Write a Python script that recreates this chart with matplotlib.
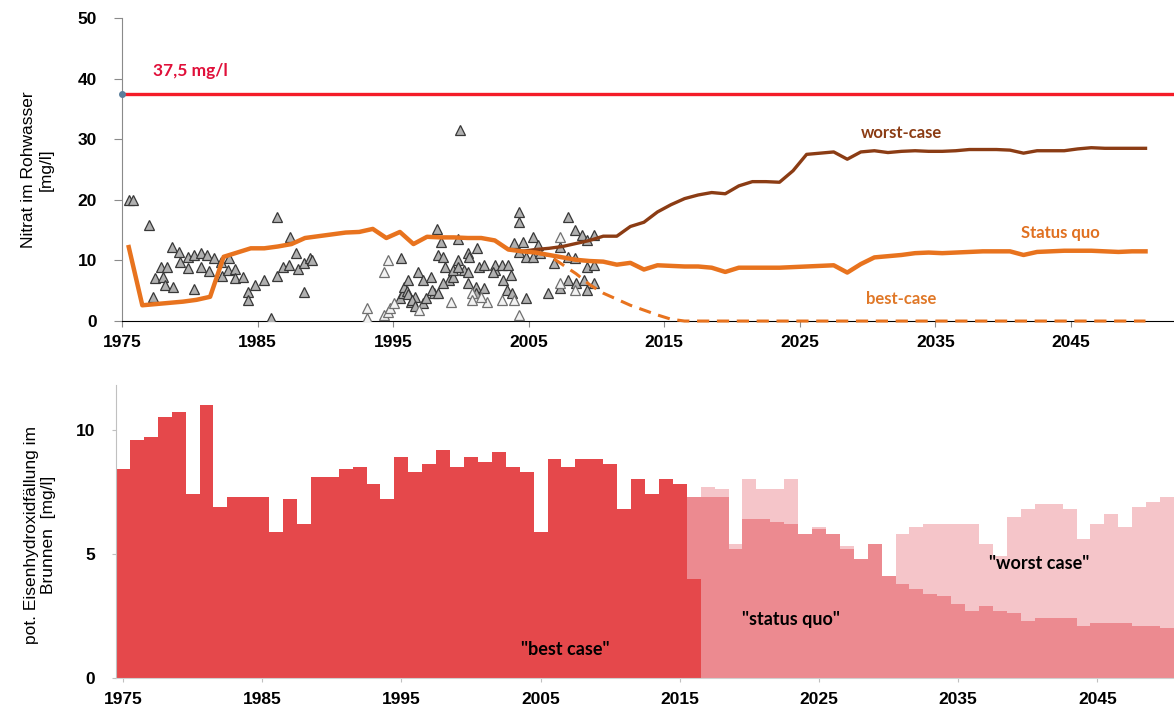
import numpy as np
import matplotlib.pyplot as plt

# ---- top chart: nitrate in raw water ----
years = np.arange(1975, 2051)

status_quo = [12.2, 2.6, 2.8, 3.0, 3.2, 3.5, 4.0, 10.6, 11.3, 12.0,
              12.0, 12.3, 12.7, 13.7, 14.0, 14.3, 14.6, 14.7, 15.2, 13.7,
              14.7, 12.7, 13.9, 13.8, 13.8, 13.7, 13.7, 13.3, 11.8, 11.5,
              11.3, 10.9, 10.5, 10.1, 9.9, 9.8, 9.3, 9.6, 8.5, 9.2,
              9.1, 9.0, 9.0, 8.8, 8.1, 8.8, 8.8, 8.8, 8.8, 8.9,
              9.0, 9.1, 9.2, 8.0, 9.4, 10.5, 10.7, 10.9, 11.2, 11.3,
              11.2, 11.3, 11.4, 11.5, 11.5, 11.5, 10.9, 11.4, 11.5, 11.6,
              11.6, 11.6, 11.5, 11.4, 11.5, 11.5]

worst_years = np.arange(2004, 2051)
worst_case = [11.5, 11.8, 12.0, 12.3, 12.8, 13.3, 14.0, 14.0, 15.6, 16.3,
              18.0, 19.2, 20.2, 20.8, 21.2, 21.0, 22.3, 23.0, 23.0, 22.9,
              24.8, 27.5, 27.7, 27.9, 26.7, 27.9, 28.1, 27.8, 28.0, 28.1,
              28.0, 28.0, 28.1, 28.3, 28.3, 28.3, 28.2, 27.7, 28.1, 28.1,
              28.1, 28.4, 28.6, 28.5, 28.5, 28.5, 28.5]

best_years = np.arange(2005, 2051)
best_case = [11.3, 10.8, 9.3, 7.8, 6.0, 4.6, 3.6, 2.6, 1.8, 1.0, 0.3] + [0.0] * 35

# measured values (decimal year, mg/l)
meas_dark_t = [1975.5, 1975.8, 1977.0, 1977.3, 1977.4, 1977.9, 1978.3, 1978.0, 1978.2, 1978.8,
               1978.7, 1979.2, 1979.3, 1979.9, 1979.9, 1980.3, 1980.8, 1980.8, 1981.3, 1981.4,
               1980.3, 1981.8, 1982.3, 1982.4, 1982.9, 1982.8, 1983.3, 1983.3, 1983.9, 1984.3,
               1984.3, 1984.8, 1985.5, 1986.0, 1986.4, 1986.4, 1986.9, 1987.4, 1987.3, 1987.8,
               1988.0, 1988.4, 1988.4, 1988.9, 1989.0,
               1995.6, 1995.5, 1995.7, 1995.8, 1996.1, 1996.3, 1996.6, 1996.8, 1997.2, 1997.2,
               1997.4, 1997.8, 1998.0, 1998.2, 1998.3, 1998.5, 1998.7, 1998.8, 1999.1, 1999.8,
               1999.8, 2000.2, 2000.5, 2000.5, 2001.2, 2001.3, 2001.1, 2001.7, 2002.5, 1999.9,
               1997.9, 1998.3, 1998.7, 1999.4, 1999.4, 1999.8, 2000.5, 2000.6, 2001.1, 2001.7,
               2002.5, 2002.4, 2003.0, 2003.1, 2003.5, 2003.7, 2003.4, 2003.8, 2004.3, 2004.3,
               2003.9, 2004.6, 2004.3, 2004.8, 2004.8, 2005.3, 2005.3, 2005.7, 2005.8, 2006.4,
               2006.9, 2007.3, 2007.3, 2007.9, 2008.4, 2007.9, 2008.4, 2007.9, 2008.5, 2008.9,
               2009.3, 2009.8, 2009.3, 2009.8, 2009.1, 2009.8, 2009.3, 1996.0, 1996.1, 1996.4,
               1996.6]
meas_dark_v = [20.0, 20.0, 15.8, 4.0, 7.1, 8.9, 8.9, 7.3, 5.9, 5.6,
               12.2, 11.4, 9.7, 10.6, 8.7, 10.9, 11.2, 8.9, 10.9, 8.3,
               5.3, 10.4, 9.7, 7.4, 10.4, 8.4, 8.6, 7.1, 7.3, 4.8,
               3.5, 5.9, 6.8, 0.5, 17.2, 7.4, 8.9, 13.9, 9.2, 11.2,
               8.6, 4.8, 9.6, 10.4, 10.0,
               10.4, 3.8, 4.6, 5.6, 6.8, 3.1, 4.0, 8.1, 3.0, 6.8,
               3.8, 7.3, 4.6, 15.2, 10.9, 13.0, 10.6, 8.9, 6.8, 13.5,
               10.1, 8.4, 11.2, 6.3, 12.0, 8.9, 5.6, 5.4, 8.4, 31.5,
               5.1, 4.6, 6.3, 7.3, 8.4, 8.9, 8.1, 10.6, 4.6, 9.2,
               9.2, 8.1, 9.2, 6.8, 9.2, 7.6, 5.1, 4.6, 18.0, 16.3,
               12.9, 13.0, 11.4, 10.6, 3.8, 13.9, 10.6, 12.5, 11.2, 4.6,
               9.6, 12.2, 5.4, 17.2, 15.0, 10.6, 10.4, 6.8, 6.3, 14.2,
               13.4, 14.2, 8.9, 9.2, 6.8, 6.3, 5.1, 5.0, 4.5, 3.5,
               2.5]
meas_light_t = [1993.1, 1993.1, 1994.3, 1994.6, 1994.3, 1994.6, 1994.8, 1995.1, 1996.9, 1999.3,
                2000.8, 2000.8, 2001.9, 2003.0, 2004.3, 2007.3, 2007.3, 2008.4, 2003.9, 2001.5]
meas_light_v = [2.1, 0.5, 8.1, 10.1, 1.0, 1.5, 2.1, 3.0, 1.8, 3.1,
                4.6, 3.5, 3.1, 3.5, 1.0, 13.9, 6.3, 5.1, 3.5, 4.0]

limit = 37.5

# ---- bottom chart: potential iron hydroxide precipitation ----
bar_best_years = np.arange(1975, 2017)
bar_best = [8.4, 9.6, 9.7, 10.5, 10.7, 7.4, 11.0, 6.9, 7.3, 7.3,
            7.3, 5.9, 7.2, 6.2, 8.1, 8.1, 8.4, 8.5, 7.8, 7.2,
            8.9, 8.3, 8.6, 9.2, 8.5, 8.9, 8.7, 9.1, 8.5, 8.3,
            5.9, 8.8, 8.5, 8.8, 8.8, 8.6, 6.8, 8.0, 7.4, 8.0,
            7.8, 4.0]
bar_fut_years = np.arange(2016, 2051)
bar_status = [7.3, 7.3, 7.3, 5.2, 6.4, 6.4, 6.3, 6.2, 5.8, 6.0,
              5.8, 5.2, 4.8, 5.4, 4.1, 3.8, 3.6, 3.4, 3.3, 3.0,
              2.7, 2.9, 2.7, 2.6, 2.3, 2.4, 2.4, 2.4, 2.1, 2.2,
              2.2, 2.2, 2.1, 2.1, 2.0]
bar_worst = [7.3, 7.7, 7.6, 5.4, 8.0, 7.6, 7.6, 8.0, 5.8, 6.1,
             5.8, 5.3, 4.8, 5.4, 4.1, 5.8, 6.1, 6.2, 6.2, 6.2,
             6.2, 5.4, 4.9, 6.5, 6.8, 7.0, 7.0, 6.8, 5.6, 6.2,
             6.6, 6.1, 6.9, 7.1, 7.3]

tick_years = np.arange(1975, 2050, 10)

fig = plt.figure(figsize=(11.74, 7.09), dpi=100)
ax1 = fig.add_axes([0.1039, 0.5472, 0.8961, 0.4274])
ax2 = fig.add_axes([0.0988, 0.0437, 0.9012, 0.4133])

tick_font = {'family': 'Liberation Sans', 'weight': 'bold', 'size': 12.5}
note_font = 'Lato'

# top
ax1.axhline(limit, color='#f41c28', lw=2.4, zorder=2)
ax1.plot([1975], [limit], 'o', ms=4, color='#5b7f9c', clip_on=False, zorder=5)
ax1.text(1977.3, 40.5, '37,5 mg/l', color='#e0103a', fontsize=12.5,
         fontweight='bold', family=note_font)

ax1.plot(meas_dark_t, meas_dark_v, '^', ms=7.5, mfc='#b0b0b0', mec='#383838',
         mew=0.9, ls='none', zorder=3)
ax1.plot(meas_light_t, meas_light_v, '^', ms=7.5, mfc='#f2f2f2', mec='#707070',
         mew=0.9, ls='none', zorder=3)

ax1.plot(worst_years + 0.5, worst_case, color='#8b3c14', lw=2.4, zorder=4)
ax1.plot(best_years + 0.5, best_case, color='#e8731e', lw=2.2, ls=(0, (4, 2.5)),
         clip_on=False, zorder=4)
ax1.plot(years + 0.5, status_quo, color='#e8731e', lw=3.2, zorder=4)

ax1.text(2032.5, 31.0, 'worst-case', color='#8b3c14', fontsize=12,
         fontweight='bold', family=note_font, ha='center', va='center')
ax1.text(2044.2, 14.6, 'Status quo', color='#e07020', fontsize=12,
         fontweight='bold', family=note_font, ha='center', va='center')
ax1.text(2032.5, 3.6, 'best-case', color='#e07828', fontsize=12,
         fontweight='bold', family=note_font, ha='center', va='center')

ax1.set_xlim(1975, 2052.6)
ax1.set_ylim(0, 50)
ax1.set_xticks(tick_years)
ax1.set_xticklabels([str(y) for y in tick_years], fontdict=tick_font)
ax1.set_yticks(range(0, 51, 10))
ax1.set_yticklabels([str(v) for v in range(0, 51, 10)], fontdict=tick_font)
ax1.spines['top'].set_visible(False)
ax1.spines['right'].set_visible(False)
ax1.spines['left'].set_color('#8a8a8a')
ax1.spines['bottom'].set_color('black')
ax1.tick_params(axis='y', length=6, color='#8a8a8a', pad=12)
ax1.tick_params(axis='x', length=4, color='#8a8a8a', pad=6)

# bottom
ax2.bar(bar_fut_years, bar_worst, width=1.0, color='#f5c5c9', linewidth=0)
ax2.bar(bar_fut_years, bar_status, width=1.0, color='#ec8a90', linewidth=0)
ax2.bar(bar_best_years, bar_best, width=1.0, color='#e5484b', linewidth=0)

ax2.text(2006.8, 1.15, '"best case"', fontsize=13, fontweight='bold',
         family=note_font, ha='center', va='center')
ax2.text(2023.0, 2.35, '"status quo"', fontsize=13, fontweight='bold',
         family=note_font, ha='center', va='center')
ax2.text(2040.8, 4.6, '"worst case"', fontsize=13, fontweight='bold',
         family=note_font, ha='center', va='center')

ax2.set_xlim(1974.5, 2050.5)
ax2.set_ylim(0, 11.8)
ax2.set_xticks(tick_years)
ax2.set_xticklabels([str(y) for y in tick_years], fontdict=tick_font)
ax2.set_yticks([0, 5, 10])
ax2.set_yticklabels(['0', '5', '10'], fontdict=tick_font)
ax2.spines['top'].set_visible(False)
ax2.spines['right'].set_visible(False)
ax2.spines['left'].set_color('#c0c0c0')
ax2.spines['bottom'].set_color('#d0d0d0')
ax2.tick_params(axis='y', length=3, color='#c0c0c0', pad=12)
ax2.tick_params(axis='x', length=3, color='#c0c0c0', pad=7)

fig.text(0.032, 0.76, 'Nitrat im Rohwasser\n[mg/l]', rotation=90, ha='center',
         va='center', fontsize=12.5, family='Liberation Sans', multialignment='center')
fig.text(0.034, 0.245, 'pot. Eisenhydroxidfällung im\nBrunnen  [mg/l]', rotation=90,
         ha='center', va='center', fontsize=12.5, family='Liberation Sans',
         multialignment='center')

fig.savefig('out.png', dpi=100)
